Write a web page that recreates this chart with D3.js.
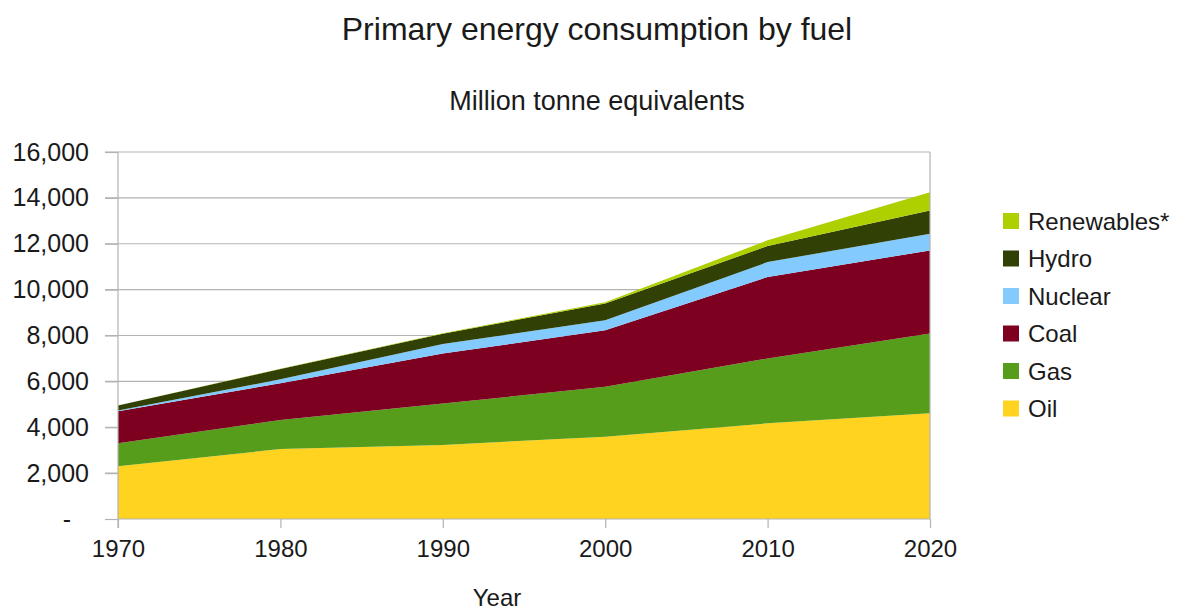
<!DOCTYPE html>
<html>
<head>
<meta charset="utf-8">
<script src="https://cdn.jsdelivr.net/npm/d3@7"></script>
<style>
  html, body { margin: 0; padding: 0; background: #ffffff; }
  svg { display: block; font-family: "Liberation Sans", Arial, sans-serif; }
</style>
</head>
<body>
<svg id="chart" width="1183" height="613"></svg>
<script>
// ---- data (million tonnes oil equivalent) ----
const years = [1970, 1980, 1990, 2000, 2010, 2020];
const oil        = [2300, 3050, 3230, 3590, 4170, 4610];
const gas        = [1000, 1270, 1800, 2175, 2830, 3480];
const coal       = [1400, 1600, 2180, 2465, 3550, 3620];
const nuclear    = [  30,  170,  420,  435,  650,  730];
const hydro      = [ 220,  450,  450,  726,  700, 1010];
const renewables = [   0,   10,   20,   60,  250,  800];
const seriesNames  = ["Oil", "Gas", "Coal", "Nuclear", "Hydro", "Renewables*"];
const seriesColors = ["#ffd320", "#579d1c", "#7e0021", "#83caff", "#314004", "#aecf00"];
const yTicks = [0, 2000, 4000, 6000, 8000, 10000, 12000, 14000, 16000];
const xTicks = [1970, 1980, 1990, 2000, 2010, 2020];

const seriesValues = [oil, gas, coal, nuclear, hydro, renewables];
const table = years.map((yr, i) => {
  const row = { year: yr };
  seriesNames.forEach((n, k) => row[n] = seriesValues[k][i]);
  return row;
});

const svg = d3.select("#chart");
const pLeft = 118, pRight = 930, pTop = 152, pBottom = 519;

const x = d3.scaleLinear().domain([1970, 2020]).range([pLeft, pRight]);
const y = d3.scaleLinear().domain([0, 16000]).range([pBottom, pTop]);

// title
svg.append("text").attr("x", 597).attr("y", 40).attr("text-anchor", "middle")
  .attr("font-size", 32).attr("fill", "#1a1a1a").text("Primary energy consumption by fuel");
svg.append("text").attr("x", 597).attr("y", 110).attr("text-anchor", "middle")
  .attr("font-size", 27).attr("fill", "#1a1a1a").text("Million tonne equivalents");

// gridlines
svg.append("g").selectAll("line").data(yTicks.filter(d => d > 0)).join("line")
  .attr("x1", pLeft - 13).attr("x2", pRight)
  .attr("y1", d => y(d)).attr("y2", d => y(d))
  .attr("stroke", "#b3b3b3").attr("stroke-width", 1.2);

// stacked areas
const stack = d3.stack().keys(seriesNames);
const layers = stack(table);
const area = d3.area()
  .x(d => x(d.data.year))
  .y0(d => y(d[0]))
  .y1(d => y(d[1]));
svg.append("g").selectAll("path").data(layers).join("path")
  .attr("d", area)
  .attr("fill", (d, i) => seriesColors[i]);

// right border
svg.append("line").attr("x1", pRight).attr("x2", pRight).attr("y1", pTop).attr("y2", pBottom)
  .attr("stroke", "#b3b3b3").attr("stroke-width", 1.2);

// y axis
const yAxis = d3.axisLeft(y).tickValues(yTicks).tickSize(13).tickPadding(16)
  .tickFormat(d => d === 0 ? "-" : d3.format(",")(d));
const gy = svg.append("g").attr("transform", `translate(${pLeft},0)`).call(yAxis);
gy.select(".domain").attr("stroke", "#b3b3b3").attr("stroke-width", 1.2)
  .attr("d", `M0,${pBottom + 9}V${pTop}`);
gy.selectAll(".tick line").attr("stroke", "#b3b3b3").attr("stroke-width", 1.2);
gy.selectAll(".tick text").attr("font-size", 25).attr("fill", "#1a1a1a")
  .attr("font-family", "Liberation Sans, Arial, sans-serif");
gy.selectAll(".tick text").filter(d => d === 0).attr("dx", -18);

// x axis
const xAxis = d3.axisBottom(x).tickValues(xTicks).tickSize(9).tickPadding(12)
  .tickFormat(d3.format("d"));
const gx = svg.append("g").attr("transform", `translate(0,${pBottom})`).call(xAxis);
gx.select(".domain").attr("stroke", "#b3b3b3").attr("stroke-width", 1.2)
  .attr("d", `M${pLeft},0H${pRight}`);
gx.selectAll(".tick line").attr("stroke", "#b3b3b3").attr("stroke-width", 1.2);
gx.selectAll(".tick text").attr("font-size", 24).attr("fill", "#1a1a1a")
  .attr("font-family", "Liberation Sans, Arial, sans-serif");

// x axis title
svg.append("text").attr("x", 497).attr("y", 606).attr("text-anchor", "middle")
  .attr("font-size", 24).attr("fill", "#1a1a1a").text("Year");

// legend (top = last series)
const legendOrder = seriesNames.map((n, i) => ({ name: n, color: seriesColors[i] })).reverse();
const lg = svg.append("g").attr("transform", "translate(1003,221)");
const item = lg.selectAll("g").data(legendOrder).join("g")
  .attr("transform", (d, i) => `translate(0,${i * 37.5})`);
item.append("rect").attr("x", 0).attr("y", -8).attr("width", 16).attr("height", 16)
  .attr("fill", d => d.color);
item.append("text").attr("x", 25).attr("y", 8.5).attr("font-size", 24).attr("fill", "#1a1a1a")
  .text(d => d.name);
</script>
</body>
</html>
